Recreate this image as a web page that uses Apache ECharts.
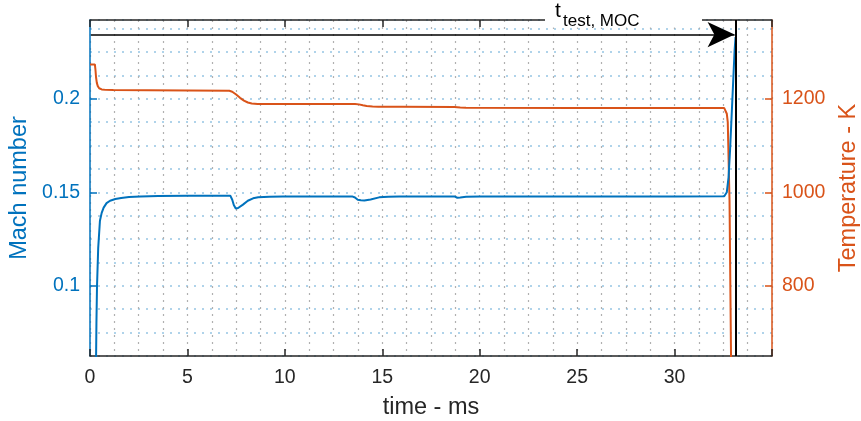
<!DOCTYPE html>
<html><head><meta charset="utf-8">
<script src="https://cdn.jsdelivr.net/npm/echarts@6/dist/echarts.min.js"></script>
<style>html,body{margin:0;padding:0;background:#fff}#c{width:861px;height:421px}</style>
</head><body><div id="c"></div>
<script>
// ---- data ----
const machT = [0.3,0.33,0.36,0.42,0.51,0.6,0.7,0.85,1.03,1.3,1.6,2.0,2.6,3.5,5.0,7.2,7.3,7.38,7.48,7.6,7.85,8.1,8.37,8.63,9.2,9.9,12.0,13.45,13.6,13.74,13.9,14.08,14.4,14.84,15.3,15.86,17.0,18.7,18.85,19.0,19.3,20.0,25.0,30.0,32.55,32.62,32.68,32.77,32.85,32.94,33.02,33.08,33.13];
const machV = [0.05,0.08,0.1,0.12,0.1348,0.139,0.1418,0.1442,0.1455,0.1464,0.147,0.1475,0.1478,0.148,0.1481,0.1482,0.146,0.1432,0.1414,0.1416,0.1434,0.1455,0.1468,0.1473,0.1476,0.1477,0.1478,0.1478,0.1472,0.146,0.1457,0.1456,0.1462,0.1473,0.1476,0.1477,0.1478,0.1478,0.1471,0.1472,0.1476,0.1478,0.1478,0.1478,0.1479,0.1485,0.15,0.158,0.173,0.1936,0.212,0.2257,0.233];
const tempT = [0,0.25,0.28,0.31,0.35,0.4,0.47,0.6,0.8,1.2,3.0,7.15,7.3,7.5,7.7,7.9,8.1,8.3,8.6,10.0,13.6,13.8,14.0,14.2,14.5,14.8,16.0,18.7,19.0,19.3,25.0,32.55,32.62,32.68,32.73,32.82,32.9];
const tempV = [1273.5,1273.5,1262,1246,1234,1227,1222.5,1220,1219,1218.5,1218,1217,1215,1209,1202,1196,1192,1190,1189,1189,1189,1188,1186,1184.5,1183.5,1183,1183,1182.5,1181.5,1181,1180.5,1180,1178,1168,1150,982,640];
const xTicks = [0,5,10,15,20,25,30];
const machTicks = [0.1,0.15,0.2];
const tempTicks = [800,1000,1200];
const xRange = [0,35];
const machRange = [0.0625,0.2421];
const tempRange = [650,1368.4];
const arrowY = 0.2343;
const arrowStart = 0.05;
const arrowTip = 33.08;
const testEnd = 33.16;
const labelMain = 't';
const labelSub = 'test, MOC';

const FONT = '"Liberation Sans", Arial, Helvetica, sans-serif';
const BLUE = '#0072BD', ORANGE = '#D95319', DARK = '#262626';
const machData = machT.map((t,i)=>[t,machV[i]]);
const tempData = tempT.map((t,i)=>[t,tempV[i]]);

const chart = echarts.init(document.getElementById('c'), null, {renderer:'canvas'});
const gridDot = {color:'#b0b0b0', type:[2,5], width:1.2};
chart.setOption({
  animation:false,
  textStyle:{fontFamily:FONT},
  grid:{left:90,right:89,top:20,bottom:65,containLabel:false,outerBoundsMode:'none'},
  xAxis:[
    {type:'value',min:xRange[0],max:xRange[1],interval:5,position:'bottom',
     axisLine:{show:true,onZero:false,lineStyle:{color:DARK,width:1.5}},
     axisTick:{show:true,inside:true,length:7,lineStyle:{color:DARK,width:1.5}},
     axisLabel:{color:DARK,fontSize:19.5,margin:12,fontFamily:FONT,formatter:v=>xTicks.includes(v)?String(v):''},
     splitLine:{show:true,lineStyle:gridDot},
     minorTick:{show:false,splitNumber:4},
     minorSplitLine:{show:true,lineStyle:gridDot},
     name:'time - ms',nameLocation:'middle',nameGap:40,
     nameTextStyle:{fontSize:23.5,color:DARK,fontFamily:FONT}},
    {type:'value',min:xRange[0],max:xRange[1],interval:5,position:'top',
     axisLine:{show:true,onZero:false,lineStyle:{color:DARK,width:1.5}},
     axisTick:{show:true,inside:true,length:7,lineStyle:{color:DARK,width:1.5}},
     axisLabel:{show:false},splitLine:{show:false}}
  ],
  yAxis:[
    {type:'value',position:'left',min:machRange[0],max:machRange[1],
     axisLine:{show:true,onZero:false,lineStyle:{color:BLUE,width:1.5}},
     axisTick:{show:true,inside:true,length:7,customValues:machTicks,lineStyle:{color:BLUE,width:1.5}},
     axisLabel:{customValues:machTicks,color:BLUE,fontSize:19.5,margin:10,fontFamily:FONT,formatter:v=>String(+v.toFixed(2))},
     splitLine:{show:false},
     name:'Mach number',nameLocation:'middle',nameGap:48,nameRotate:90,
     nameTextStyle:{fontSize:23.5,color:BLUE,fontFamily:FONT}},
    {type:'value',position:'right',min:tempRange[0],max:tempRange[1],
     axisLine:{show:true,onZero:false,lineStyle:{color:ORANGE,width:1.5}},
     axisTick:{show:true,inside:true,length:7,customValues:tempTicks,lineStyle:{color:ORANGE,width:1.5}},
     axisLabel:{customValues:tempTicks,color:ORANGE,fontSize:19.5,margin:10,fontFamily:FONT,formatter:v=>String(v)},
     splitLine:{show:false},
     name:'Temperature - K',nameLocation:'middle',nameGap:64,nameRotate:90,
     nameTextStyle:{fontSize:23.5,color:ORANGE,fontFamily:FONT}},
    {type:'value',position:'left',min:machRange[0],max:machRange[1],interval:0.0125,
     axisLine:{show:false},axisTick:{show:false},axisLabel:{show:false},
     splitLine:{show:true,lineStyle:{color:'rgba(0,114,189,0.42)',type:[2,6],width:1.5}}}
  ],
  series:[
    {type:'line',name:'Mach',xAxisIndex:0,yAxisIndex:0,data:machData,symbol:'none',showSymbol:false,
     lineStyle:{color:BLUE,width:2},itemStyle:{color:BLUE},z:3,
     markLine:{silent:true,animation:false,label:{show:false},
       data:[
         [{coord:[arrowStart,arrowY],symbol:'none',lineStyle:{color:'#000',width:1.5,type:'solid'}},
          {coord:[arrowTip,arrowY],symbol:'arrow',symbolSize:[19,27]}],
         [{coord:[testEnd,machRange[0]],symbol:'none',lineStyle:{color:'#000',width:2,type:'solid'}},
          {coord:[testEnd,machRange[1]],symbol:'none'}]
       ]}},
    {type:'line',name:'Temperature',xAxisIndex:0,yAxisIndex:1,data:tempData,symbol:'none',showSymbol:false,
     lineStyle:{color:ORANGE,width:2},itemStyle:{color:ORANGE},z:2}
  ],
  graphic:[
    {type:'rect',z:100,shape:{x:545,y:16,width:157,height:11.5},style:{fill:'#fff'}},
    {type:'text',z:101,style:{x:555,y:22,text:labelMain,font:'21px '+FONT,fill:'#000',verticalAlign:'bottom'}},
    {type:'text',z:101,style:{x:563,y:30,text:labelSub,font:'17px '+FONT,fill:'#000',verticalAlign:'bottom'}}
  ]
});
</script></body></html>
